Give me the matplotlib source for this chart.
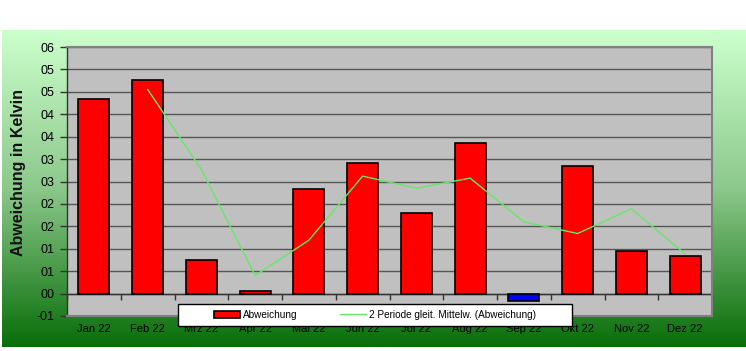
import numpy as np
import pandas as pd
import matplotlib
matplotlib.use("Agg")
import matplotlib.pyplot as plt
from matplotlib.patches import Rectangle, Patch
from matplotlib.lines import Line2D

plt.rcParams['font.family'] = ['Liberation Sans', 'DejaVu Sans']

# ---- data ----
months = ["Jan 22", "Feb 22", "Mrz 22", "Apr 22", "Mai 22", "Jun 22",
          "Jul 22", "Aug 22", "Sep 22", "Okt 22", "Nov 22", "Dez 22"]
abweichung = [4.34, 4.77, 0.76, 0.05, 2.33, 2.91, 1.79, 3.36, -0.16, 2.84, 0.94, 0.83]
ytick_values = [-0.5, 0.0, 0.5, 1.0, 1.5, 2.0, 2.5, 3.0, 3.5, 4.0, 4.5, 5.0, 5.5]
ytick_labels = ["-01", "00", "01", "01", "02", "02", "03", "03", "04", "04", "05", "05", "06"]
ylabel = "Abweichung in Kelvin"
legend_bar = "Abweichung"
legend_line = "2 Periode gleit. Mittelw. (Abweichung)"

W, H = 746, 351
fig = plt.figure(figsize=(W / 100, H / 100), dpi=100)
fig.patch.set_facecolor("white")

# background gradient
bg = fig.add_axes([2 / W, 4 / H, 1 - 2 / W, (347 - 30) / H], zorder=0)
top = np.array([204, 255, 204]) / 255
mid = np.array([140, 200, 140]) / 255
bot = np.array([8, 110, 8]) / 255
t = np.linspace(0, 1, 256)[:, None]
grad = np.where(t < 0.5, top + (mid - top) * (t / 0.5), mid + (bot - mid) * ((t - 0.5) / 0.5))
bg.imshow(grad[:, None, :].repeat(2, axis=1), aspect="auto", extent=[0, 1, 0, 1])
bg.set_axis_off()

# plot area
x0, x1, y0, y1 = 67, 712, 47, 316
ax = fig.add_axes([x0 / W, 1 - y1 / H, (x1 - x0) / W, (y1 - y0) / H], zorder=1)
ax.set_facecolor("#C0C0C0")

x = np.arange(len(months))
vals = np.array(abweichung)
colors = ["#FF0000" if v >= 0 else "#0000FF" for v in vals]
ax.bar(x, vals, width=0.58, color=colors, edgecolor="black", linewidth=1.2, zorder=3)

ma = pd.Series(vals).rolling(2).mean()
ax.plot(x, ma, color="#66E866", linewidth=1.0, zorder=4)

ax.set_xlim(-0.5, len(months) - 0.5)
ax.set_ylim(-0.5, 5.5)
ax.set_yticks(ytick_values)
ax.set_yticklabels(ytick_labels, fontsize=9)
for yv in ytick_values[1:]:
    ax.axhline(yv, color="#555555", linewidth=1.0, zorder=1)
ax.axhline(0, color="#333333", linewidth=1.0, zorder=2)

ax.set_xticks(x)
ax.set_xticklabels(months, fontsize=8)
ax.tick_params(axis="x", length=0, pad=6)
ax.tick_params(axis="y", length=5, width=1, color="#333333", direction="out", pad=4)

for s in ["top", "right", "bottom"]:
    ax.spines[s].set_color("#808080")
    ax.spines[s].set_linewidth(1.5)
ax.spines["left"].set_color("#333333")
ax.spines["left"].set_linewidth(1.0)

# category boundary tick marks on the zero line
sec = ax.secondary_xaxis(0.5 / 6.0)
sec.set_xticks(np.arange(-0.5, len(months), 1.0))
sec.set_xticklabels([])
sec.tick_params(axis="x", length=4, width=1, color="#333333", direction="out")
sec.spines["bottom"].set_visible(False)

# y label
fig.text(19 / W, 1 - 172 / H, ylabel, rotation=90, fontsize=11.5,
         fontweight="bold", ha="center", va="center", color="#111111")

# legend box
lx0, lx1, ly0, ly1 = 178, 572, 304, 326
fig.patches.append(Rectangle((lx0 / W, 1 - ly1 / H), (lx1 - lx0) / W, (ly1 - ly0) / H,
                             transform=fig.transFigure, facecolor="white",
                             edgecolor="black", linewidth=1.0, zorder=5))
handles = [Patch(facecolor="#FF0000", edgecolor="black", linewidth=1.2),
           Line2D([], [], color="#66E866", linewidth=1.0)]
leg = fig.legend(handles, [legend_bar, legend_line], loc="center",
                 bbox_to_anchor=((lx0 + lx1) / 2 / W, 1 - (ly0 + ly1) / 2 / H),
                 ncol=2, frameon=False, fontsize=7.2, handlelength=2.6,
                 handletextpad=0.3, columnspacing=4.2, handleheight=0.8)
leg.set_zorder(6)

fig.savefig("out.png", dpi=100)
